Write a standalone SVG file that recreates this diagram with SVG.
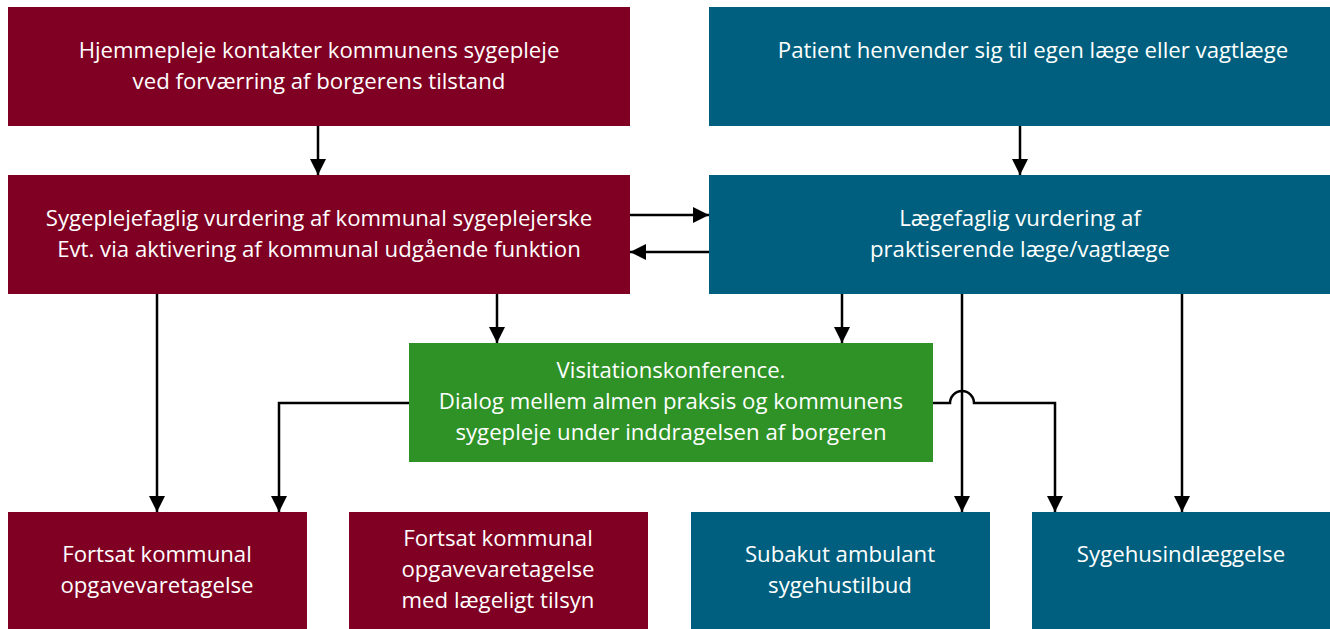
<svg xmlns="http://www.w3.org/2000/svg" width="1330" height="629" viewBox="0 0 1330 629">
<style>
.red{fill:#7f0022}
.teal{fill:#005f7e}
.green{fill:#2e9227}
text{font-family:"Open Sans",Lato,sans-serif;font-size:22.2px;fill:#ffffff;text-anchor:middle}
.c{stroke:#000;stroke-width:2.5;fill:none}
</style>
<defs>
<marker id="ah" viewBox="0 0 10 10" refX="10" refY="5" markerWidth="16" markerHeight="16" markerUnits="userSpaceOnUse" orient="auto">
<path d="M0,0 L10,5 L0,10 z" fill="#000"/>
</marker>
</defs>
<rect width="1330" height="629" fill="#fff"/>
<g id="nA"><rect class="red" x="8" y="7" width="622" height="119"/><text x="319" y="58">Hjemmepleje kontakter kommunens sygepleje</text><text x="319" y="89">ved forværring af borgerens tilstand</text></g>
<g id="nB"><rect class="teal" x="709" y="7" width="621" height="119"/><text x="1033" y="58">Patient henvender sig til egen læge eller vagtlæge</text></g>
<g id="nC"><rect class="red" x="8" y="175" width="622" height="119"/><text x="319" y="226">Sygeplejefaglig vurdering af kommunal sygeplejerske</text><text x="319" y="257">Evt. via aktivering af kommunal udgående funktion</text></g>
<g id="nD"><rect class="teal" x="709" y="175" width="621" height="119"/><text x="1020" y="226">Lægefaglig vurdering af</text><text x="1020" y="257">praktiserende læge/vagtlæge</text></g>
<g id="nE"><rect class="green" x="409" y="343" width="524" height="119"/><text x="671" y="378">Visitationskonference.</text><text x="671" y="409">Dialog mellem almen praksis og kommunens</text><text x="671" y="440">sygepleje under inddragelsen af borgeren</text></g>
<g id="n1"><rect class="red" x="8" y="512" width="299" height="117"/><text x="157" y="562">Fortsat kommunal</text><text x="157" y="593">opgavevaretagelse</text></g>
<g id="n2"><rect class="red" x="349" y="512" width="299" height="117"/><text x="498" y="546">Fortsat kommunal</text><text x="498" y="577">opgavevaretagelse</text><text x="498" y="608">med lægeligt tilsyn</text></g>
<g id="n3"><rect class="teal" x="691" y="512" width="299" height="117"/><text x="840" y="562">Subakut ambulant</text><text x="840" y="593">sygehustilbud</text></g>
<g id="n4"><rect class="teal" x="1032" y="512" width="298" height="117"/><text x="1181" y="562">Sygehusindlæggelse</text></g>
<g id="connectors">
<path class="c" d="M318,126 V175" marker-end="url(#ah)"/>
<path class="c" d="M1020,126 V175" marker-end="url(#ah)"/>
<path class="c" d="M630,215 H709" marker-end="url(#ah)"/>
<path class="c" d="M709,252 H630" marker-end="url(#ah)"/>
<path class="c" d="M497,294 V343" marker-end="url(#ah)"/>
<path class="c" d="M842,294 V343" marker-end="url(#ah)"/>
<path class="c" d="M157,294 V512" marker-end="url(#ah)"/>
<path class="c" d="M409,403 H279 V512" marker-end="url(#ah)"/>
<path class="c" d="M962,294 V512" marker-end="url(#ah)"/>
<path class="c" d="M933,403 H950 A12,12 0 0 1 974,403 H1055 V512" marker-end="url(#ah)"/>
<path class="c" d="M1182,294 V512" marker-end="url(#ah)"/>
</g>
</svg>
